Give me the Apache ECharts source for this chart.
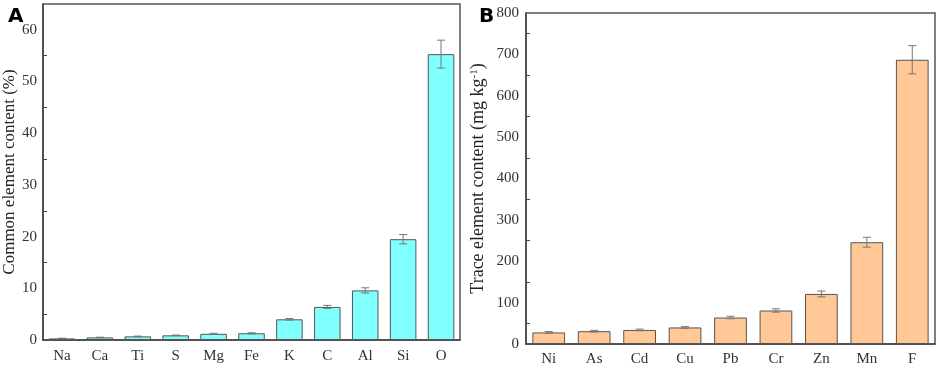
<!DOCTYPE html>
<html>
<head>
<meta charset="utf-8">
<script src="https://cdn.jsdelivr.net/npm/echarts@6/dist/echarts.min.js"></script>
<style>
  html, body { margin: 0; padding: 0; background: #fff; }
  #main { width: 941px; height: 368px; }
</style>
</head>
<body>
<div id="main"></div>
<script>
// panel A - common elements (%)
var commonNames = ['Na', 'Ca', 'Ti', 'S', 'Mg', 'Fe', 'K', 'C', 'Al', 'Si', 'O'];
var commonValues = [0.3, 0.5, 0.7, 0.9, 1.2, 1.3, 4.0, 6.4, 9.6, 19.5, 55.3];
var commonErrors = [0.05, 0.05, 0.05, 0.05, 0.1, 0.1, 0.15, 0.3, 0.5, 0.9, 2.7];

// panel B - trace elements (mg/kg)
var traceNames = ['Ni', 'As', 'Cd', 'Cu', 'Pb', 'Cr', 'Zn', 'Mn', 'F'];
var traceValues = [28, 31, 34, 40, 64, 81, 121, 246, 687];
var traceErrors = [2, 2, 2, 2, 3, 4, 7, 12, 34];

const chart = echarts.init(document.getElementById('main'));

var font = 'Liberation Serif, Times New Roman, serif';
var axisColor = '#444';
var textStyle = {
  color: '#333',
  fontSize: 15,
  fontFamily: font
};

function errorBar(xi, yi, vals, errs) {
  return {
    type: 'custom',
    xAxisIndex: xi,
    yAxisIndex: yi,
    z: 10,
    data: vals.map(function (v, i) { return [i, v - errs[i], v + errs[i]]; }),
    renderItem: function (params, api) {
      var lo = api.coord([api.value(0), api.value(1)]);
      var hi = api.coord([api.value(0), api.value(2)]);
      var hw = 4;
      var style = { stroke: '#777', lineWidth: 1 };
      return {
        type: 'group',
        children: [
          { type: 'line', shape: { x1: lo[0], y1: lo[1], x2: hi[0], y2: hi[1] }, style: style },
          { type: 'line', shape: { x1: lo[0] - hw, y1: lo[1], x2: lo[0] + hw, y2: lo[1] }, style: style },
          { type: 'line', shape: { x1: hi[0] - hw, y1: hi[1], x2: hi[0] + hw, y2: hi[1] }, style: style }
        ]
      };
    }
  };
}

var option = {
  animation: false,
  title: [
    { text: 'A', left: 3, top: 2, textStyle: { fontFamily: 'DejaVu Sans', fontWeight: 'bold', fontSize: 20, color: '#000' } },
    { text: 'B', left: 474, top: 2, textStyle: { fontFamily: 'DejaVu Sans', fontWeight: 'bold', fontSize: 20, color: '#000' } }
  ],
  grid: [
    { left: 43, top: 4, right: 481, bottom: 28, show: true, borderColor: '#555', borderWidth: 1.5 },
    { left: 526, top: 13, right: 6, bottom: 24, show: true, borderColor: '#555', borderWidth: 1.5 }
  ],
  xAxis: [
    {
      gridIndex: 0,
      type: 'category',
      data: commonNames,
      axisLine: { lineStyle: { color: axisColor, width: 1.5 } },
      axisTick: { alignWithLabel: true, length: 5, lineStyle: { color: axisColor } },
      axisLabel: Object.assign({ margin: 9 }, textStyle)
    },
    {
      // minor ticks between categories
      gridIndex: 0,
      type: 'category',
      position: 'bottom',
      data: commonNames,
      axisLine: { show: false },
      axisTick: { length: 3, lineStyle: { color: axisColor } },
      axisLabel: { show: false }
    },
    {
      gridIndex: 1,
      type: 'category',
      data: traceNames,
      axisLine: { lineStyle: { color: axisColor, width: 1.5 } },
      axisTick: { show: false },
      axisLabel: Object.assign({ margin: 8 }, textStyle)
    }
  ],
  yAxis: [
    {
      gridIndex: 0,
      type: 'value',
      min: 0,
      max: 65,
      interval: 10,
      name: 'Common element content (%)',
      nameLocation: 'middle',
      nameGap: 24,
      nameTextStyle: { fontFamily: font, fontSize: 17, color: '#222' },
      splitLine: { show: false },
      axisLine: { show: true, lineStyle: { color: axisColor, width: 1.5 } },
      axisTick: { inside: true, length: 6, lineStyle: { color: axisColor } },
      minorTick: { show: true, splitNumber: 2, length: 4, lineStyle: { color: axisColor } },
      axisLabel: Object.assign({ margin: 6, showMaxLabel: false }, textStyle)
    },
    {
      gridIndex: 1,
      type: 'value',
      min: 0,
      max: 800,
      interval: 100,
      name: 'Trace element content (mg kg{sup|-1})',
      nameLocation: 'middle',
      nameGap: 38,
      nameTextStyle: {
        fontFamily: font, fontSize: 18, color: '#222',
        rich: { sup: { fontFamily: font, fontSize: 11, color: '#222', verticalAlign: 'top', padding: [0, 0, 8, 0] } }
      },
      splitLine: { show: false },
      axisLine: { show: true, lineStyle: { color: axisColor, width: 1.5 } },
      axisTick: { inside: true, length: 6, lineStyle: { color: axisColor } },
      minorTick: { show: true, splitNumber: 2, length: 4, lineStyle: { color: axisColor } },
      axisLabel: Object.assign({ margin: 7 }, textStyle)
    }
  ],
  series: [
    {
      type: 'bar',
      xAxisIndex: 0,
      yAxisIndex: 0,
      data: commonValues,
      barWidth: '70%',
      itemStyle: { color: '#80FFFF', borderColor: '#555', borderWidth: 1 }
    },
    errorBar(0, 0, commonValues, commonErrors),
    {
      type: 'bar',
      xAxisIndex: 2,
      yAxisIndex: 1,
      data: traceValues,
      barWidth: '72%',
      itemStyle: { color: '#FFC896', borderColor: '#555', borderWidth: 1 }
    },
    errorBar(2, 1, traceValues, traceErrors)
  ]
};

chart.setOption(option);
</script>
</body>
</html>
